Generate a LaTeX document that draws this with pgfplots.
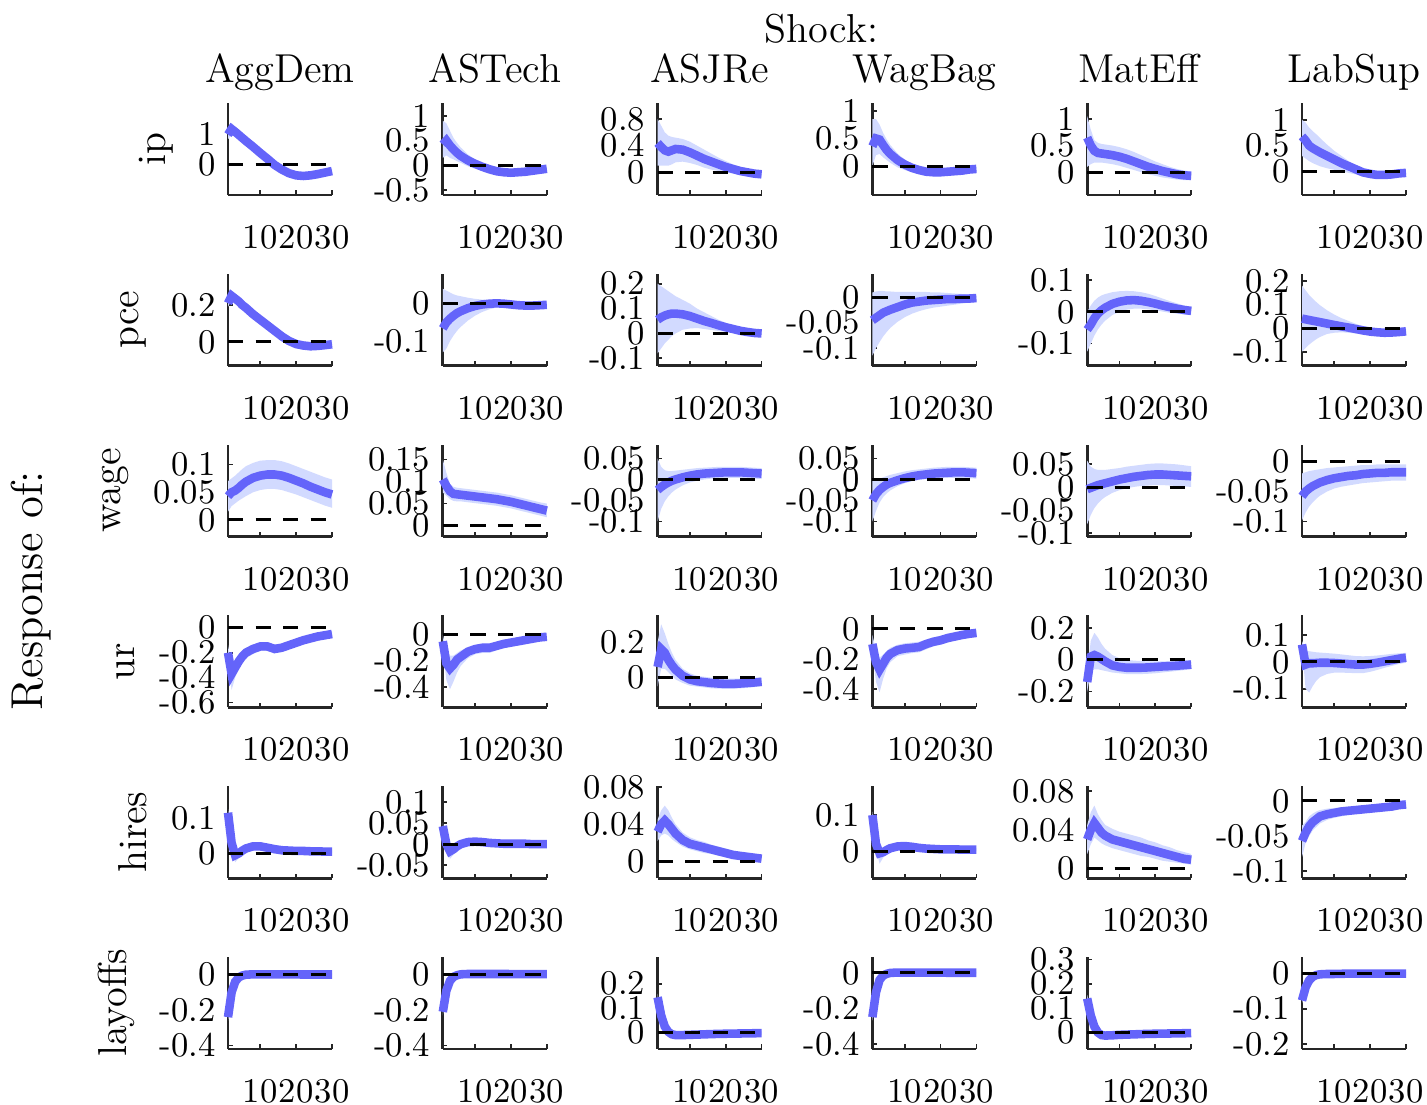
\documentclass[border=0pt]{standalone}
\usepackage{pgfplots}
\usepackage{pgfplotstable}
\pgfplotsset{compat=1.18}
\usepgfplotslibrary{fillbetween}
\definecolor{irfline}{RGB}{100,100,250}
\definecolor{irfband}{RGB}{210,218,255}

% ---------------- data: x  mid  lo  hi ----------------
\pgfplotstableread{
x m lo hi
1 0.97 0.82 1.12
2 1.15 0.95 1.35
3 1.06 0.9 1.22
4 0.96 0.83 1.09
5 0.86 0.75 0.98
6 0.76 0.66 0.87
8 0.57 0.48 0.66
10 0.37 0.29 0.45
12 0.18 0.1 0.26
14 -0.02 -0.09 0.05
16 -0.17 -0.24 -0.1
18 -0.29 -0.36 -0.22
20 -0.36 -0.43 -0.29
22 -0.38 -0.45 -0.31
24 -0.36 -0.43 -0.29
26 -0.32 -0.39 -0.25
28 -0.27 -0.34 -0.2
30 -0.22 -0.29 -0.15
}\tAA
\pgfplotstableread{
x m lo hi
1 0.42 0.15 0.9
2 0.5 0.2 0.85
3 0.4 0.15 0.7
4 0.32 0.12 0.55
5 0.25 0.08 0.45
6 0.19 0.05 0.36
8 0.1 -0.02 0.22
10 0.03 -0.07 0.12
12 -0.03 -0.11 0.04
14 -0.08 -0.15 -0.01
16 -0.12 -0.19 -0.05
18 -0.14 -0.21 -0.07
20 -0.15 -0.22 -0.08
22 -0.14 -0.21 -0.08
24 -0.13 -0.19 -0.07
26 -0.11 -0.17 -0.06
28 -0.09 -0.14 -0.04
30 -0.07 -0.11 -0.03
}\tAB
\pgfplotstableread{
x m lo hi
1 0.44 0.1 0.8
2 0.38 0.1 0.7
3 0.33 0.1 0.6
4 0.31 0.1 0.55
5 0.33 0.12 0.53
6 0.35 0.15 0.52
8 0.34 0.16 0.5
10 0.3 0.14 0.46
12 0.25 0.11 0.4
14 0.2 0.07 0.34
16 0.16 0.04 0.28
18 0.12 0.02 0.22
20 0.08 0.0 0.17
22 0.05 -0.02 0.12
24 0.02 -0.04 0.08
26 0.0 -0.05 0.05
28 -0.02 -0.06 0.02
30 -0.03 -0.07 0.01
}\tAC
\pgfplotstableread{
x m lo hi
1 0.36 0.0 0.85
2 0.5 0.2 0.85
3 0.48 0.22 0.75
4 0.38 0.16 0.6
5 0.29 0.11 0.48
6 0.22 0.06 0.38
8 0.11 -0.02 0.23
10 0.03 -0.07 0.12
12 -0.03 -0.11 0.05
14 -0.07 -0.14 0.0
16 -0.1 -0.17 -0.03
18 -0.11 -0.18 -0.04
20 -0.11 -0.18 -0.04
22 -0.1 -0.16 -0.04
24 -0.09 -0.14 -0.04
26 -0.08 -0.12 -0.03
28 -0.06 -0.1 -0.02
30 -0.05 -0.09 -0.01
}\tAD
\pgfplotstableread{
x m lo hi
1 0.65 0.1 1.05
2 0.5 0.15 0.8
3 0.4 0.18 0.6
4 0.36 0.18 0.55
5 0.35 0.18 0.53
6 0.34 0.17 0.52
8 0.32 0.15 0.5
10 0.29 0.12 0.47
12 0.25 0.08 0.43
14 0.2 0.04 0.38
16 0.15 0.0 0.32
18 0.1 -0.04 0.26
20 0.06 -0.07 0.2
22 0.02 -0.1 0.15
24 -0.01 -0.12 0.1
26 -0.04 -0.14 0.06
28 -0.06 -0.15 0.03
30 -0.07 -0.15 0.01
}\tAE
\pgfplotstableread{
x m lo hi
1 0.68 0.3 1.0
2 0.6 0.25 0.95
3 0.5 0.2 0.85
4 0.45 0.16 0.78
5 0.41 0.13 0.72
6 0.37 0.1 0.65
8 0.3 0.06 0.52
10 0.23 0.03 0.4
12 0.16 0.0 0.3
14 0.1 -0.03 0.2
16 0.04 -0.06 0.12
18 -0.02 -0.09 0.05
20 -0.05 -0.11 0.01
22 -0.07 -0.12 -0.01
24 -0.07 -0.12 -0.02
26 -0.06 -0.1 -0.02
28 -0.04 -0.08 -0.01
30 -0.03 -0.06 0.0
}\tAF
% ---- pce ----
\pgfplotstableread{
x m lo hi
1 0.21 0.19 0.235
2 0.25 0.23 0.275
3 0.235 0.215 0.26
4 0.22 0.2 0.245
5 0.2 0.18 0.225
6 0.185 0.165 0.21
8 0.15 0.13 0.175
10 0.12 0.1 0.145
12 0.09 0.07 0.115
14 0.06 0.04 0.085
16 0.03 0.01 0.055
18 0.005 -0.015 0.03
20 -0.012 -0.032 0.012
22 -0.02 -0.04 0.003
24 -0.024 -0.044 -0.002
26 -0.022 -0.042 0.0
28 -0.018 -0.038 0.004
30 -0.013 -0.033 0.009
}\tBA
\pgfplotstableread{
x m lo hi
1 -0.066 -0.13 0.04
2 -0.05 -0.12 0.035
3 -0.04 -0.1 0.03
4 -0.032 -0.085 0.025
5 -0.025 -0.072 0.022
6 -0.02 -0.062 0.02
8 -0.012 -0.045 0.016
10 -0.006 -0.032 0.013
12 -0.002 -0.022 0.011
14 0.0 -0.015 0.01
16 0.001 -0.01 0.01
18 0.0 -0.01 0.009
20 -0.002 -0.012 0.008
22 -0.004 -0.014 0.006
24 -0.005 -0.015 0.005
26 -0.005 -0.015 0.005
28 -0.004 -0.013 0.005
30 -0.003 -0.011 0.005
}\tBB
\pgfplotstableread{
x m lo hi
1 0.055 -0.08 0.2
2 0.065 -0.06 0.19
3 0.072 -0.04 0.18
4 0.077 -0.025 0.17
5 0.08 -0.01 0.16
6 0.08 0.0 0.15
8 0.077 0.015 0.135
10 0.07 0.02 0.12
12 0.06 0.022 0.1
14 0.05 0.018 0.085
16 0.042 0.014 0.07
18 0.033 0.01 0.055
20 0.025 0.007 0.043
22 0.018 0.004 0.032
24 0.011 0.0 0.022
26 0.006 -0.003 0.015
28 0.002 -0.005 0.01
30 0.0 -0.007 0.007
}\tBC
\pgfplotstableread{
x m lo hi
1 -0.045 -0.115 0.01
2 -0.04 -0.1 0.012
3 -0.035 -0.088 0.013
4 -0.03 -0.077 0.013
5 -0.027 -0.068 0.012
6 -0.024 -0.06 0.012
8 -0.019 -0.048 0.011
10 -0.014 -0.039 0.011
12 -0.01 -0.032 0.011
14 -0.008 -0.027 0.011
16 -0.006 -0.023 0.011
18 -0.005 -0.02 0.01
20 -0.004 -0.018 0.01
22 -0.003 -0.016 0.009
24 -0.003 -0.014 0.008
26 -0.002 -0.012 0.007
28 -0.002 -0.01 0.006
30 -0.001 -0.009 0.005
}\tBD
\pgfplotstableread{
x m lo hi
1 -0.056 -0.125 0.0
2 -0.04 -0.1 0.02
3 -0.02 -0.075 0.035
4 -0.005 -0.055 0.045
5 0.005 -0.04 0.052
6 0.013 -0.028 0.056
8 0.025 -0.01 0.062
10 0.032 0.0 0.065
12 0.036 0.007 0.066
14 0.037 0.01 0.065
16 0.035 0.01 0.062
18 0.031 0.008 0.057
20 0.026 0.005 0.05
22 0.02 0.001 0.042
24 0.015 -0.003 0.034
26 0.01 -0.006 0.027
28 0.006 -0.008 0.02
30 0.003 -0.01 0.015
}\tBE
\pgfplotstableread{
x m lo hi
1 0.04 -0.1 0.18
2 0.037 -0.085 0.16
3 0.034 -0.07 0.14
4 0.031 -0.058 0.125
5 0.028 -0.047 0.11
6 0.025 -0.038 0.097
8 0.019 -0.025 0.075
10 0.013 -0.02 0.057
12 0.007 -0.018 0.042
14 0.002 -0.02 0.03
16 -0.004 -0.023 0.018
18 -0.01 -0.027 0.008
20 -0.015 -0.03 0.0
22 -0.018 -0.032 -0.005
24 -0.02 -0.032 -0.008
26 -0.019 -0.03 -0.008
28 -0.017 -0.028 -0.007
30 -0.014 -0.025 -0.005
}\tBF
% ---- wage ----
\pgfplotstableread{
x m lo hi
1 0.043 0.015 0.07
2 0.05 0.025 0.075
3 0.053 0.03 0.08
4 0.058 0.035 0.086
5 0.064 0.039 0.092
6 0.069 0.043 0.097
8 0.076 0.05 0.103
10 0.08 0.054 0.107
12 0.082 0.056 0.108
14 0.082 0.056 0.108
16 0.08 0.054 0.106
18 0.076 0.05 0.102
20 0.071 0.046 0.097
22 0.066 0.041 0.092
24 0.06 0.036 0.087
26 0.055 0.031 0.082
28 0.05 0.026 0.077
30 0.046 0.022 0.073
}\tCA
\pgfplotstableread{
x m lo hi
1 0.105 0.075 0.15
2 0.09 0.068 0.12
3 0.078 0.06 0.095
4 0.072 0.056 0.088
5 0.071 0.055 0.086
6 0.07 0.055 0.085
8 0.068 0.053 0.083
10 0.066 0.051 0.081
12 0.064 0.049 0.079
14 0.062 0.047 0.077
16 0.06 0.045 0.075
18 0.057 0.042 0.072
20 0.054 0.039 0.069
22 0.05 0.035 0.065
24 0.046 0.031 0.061
26 0.042 0.027 0.057
28 0.038 0.023 0.053
30 0.034 0.019 0.05
}\tCB
\pgfplotstableread{
x m lo hi
1 -0.025 -0.1 0.05
2 -0.018 -0.07 0.03
3 -0.012 -0.052 0.022
4 -0.007 -0.04 0.02
5 -0.003 -0.031 0.02
6 0.0 -0.024 0.021
8 0.005 -0.014 0.023
10 0.009 -0.007 0.025
12 0.012 -0.003 0.027
14 0.014 0.0 0.028
16 0.015 0.002 0.029
18 0.016 0.003 0.03
20 0.017 0.004 0.03
22 0.017 0.004 0.03
24 0.017 0.004 0.03
26 0.016 0.003 0.029
28 0.015 0.002 0.028
30 0.014 0.001 0.027
}\tCC
\pgfplotstableread{
x m lo hi
1 -0.05 -0.1 0.0
2 -0.035 -0.075 0.0
3 -0.025 -0.055 0.002
4 -0.018 -0.042 0.005
5 -0.012 -0.033 0.008
6 -0.008 -0.026 0.011
8 -0.002 -0.016 0.015
10 0.003 -0.009 0.019
12 0.007 -0.004 0.022
14 0.01 -0.001 0.024
16 0.012 0.001 0.026
18 0.014 0.002 0.028
20 0.015 0.003 0.029
22 0.016 0.004 0.03
24 0.017 0.004 0.03
26 0.017 0.004 0.03
28 0.016 0.003 0.029
30 0.015 0.002 0.028
}\tCD
\pgfplotstableread{
x m lo hi
1 -0.004 -0.08 0.058
2 -0.001 -0.06 0.045
3 0.002 -0.045 0.04
4 0.005 -0.035 0.038
5 0.007 -0.027 0.038
6 0.009 -0.021 0.038
8 0.013 -0.012 0.04
10 0.017 -0.006 0.042
12 0.02 -0.002 0.045
14 0.023 0.001 0.047
16 0.025 0.003 0.049
18 0.027 0.004 0.051
20 0.028 0.005 0.052
22 0.028 0.005 0.052
24 0.027 0.004 0.051
26 0.026 0.003 0.05
28 0.025 0.002 0.048
30 0.024 0.001 0.046
}\tCE
\pgfplotstableread{
x m lo hi
1 -0.058 -0.098 -0.02
2 -0.05 -0.085 -0.018
3 -0.045 -0.075 -0.016
4 -0.041 -0.068 -0.015
5 -0.038 -0.062 -0.014
6 -0.035 -0.057 -0.013
8 -0.031 -0.05 -0.011
10 -0.028 -0.045 -0.01
12 -0.026 -0.042 -0.009
14 -0.024 -0.04 -0.008
16 -0.023 -0.038 -0.007
18 -0.021 -0.036 -0.006
20 -0.02 -0.035 -0.006
22 -0.019 -0.034 -0.005
24 -0.019 -0.033 -0.005
26 -0.018 -0.032 -0.005
28 -0.018 -0.032 -0.005
30 -0.018 -0.032 -0.005
}\tCF
% ---- ur ----
\pgfplotstableread{
x m lo hi
1 -0.2 -0.26 -0.14
2 -0.37 -0.5 -0.29
3 -0.32 -0.4 -0.26
4 -0.27 -0.33 -0.22
5 -0.23 -0.28 -0.19
6 -0.2 -0.245 -0.16
8 -0.17 -0.21 -0.135
10 -0.15 -0.185 -0.12
12 -0.15 -0.185 -0.12
14 -0.17 -0.205 -0.135
16 -0.16 -0.195 -0.13
18 -0.14 -0.17 -0.11
20 -0.12 -0.15 -0.09
22 -0.1 -0.13 -0.075
24 -0.085 -0.11 -0.06
26 -0.07 -0.095 -0.05
28 -0.06 -0.08 -0.04
30 -0.05 -0.07 -0.03
}\tDA
\pgfplotstableread{
x m lo hi
1 -0.05 -0.12 0.0
2 -0.22 -0.35 -0.12
3 -0.26 -0.42 -0.16
4 -0.23 -0.36 -0.16
5 -0.19 -0.29 -0.14
6 -0.17 -0.24 -0.12
8 -0.13 -0.18 -0.1
10 -0.11 -0.15 -0.08
12 -0.1 -0.14 -0.07
14 -0.1 -0.14 -0.07
16 -0.085 -0.12 -0.06
18 -0.07 -0.1 -0.05
20 -0.06 -0.085 -0.04
22 -0.05 -0.07 -0.03
24 -0.04 -0.06 -0.02
26 -0.03 -0.05 -0.015
28 -0.02 -0.04 -0.01
30 -0.015 -0.03 -0.005
}\tDB
\pgfplotstableread{
x m lo hi
1 0.06 -0.05 0.2
2 0.16 0.05 0.3
3 0.14 0.05 0.25
4 0.1 0.03 0.19
5 0.07 0.01 0.14
6 0.045 -0.01 0.1
8 0.01 -0.03 0.05
10 -0.01 -0.045 0.025
12 -0.02 -0.05 0.01
14 -0.025 -0.055 0.005
16 -0.03 -0.06 0.0
18 -0.033 -0.062 -0.003
20 -0.035 -0.063 -0.005
22 -0.035 -0.063 -0.006
24 -0.033 -0.06 -0.005
26 -0.03 -0.057 -0.003
28 -0.027 -0.053 -0.002
30 -0.023 -0.048 0.0
}\tDC
\pgfplotstableread{
x m lo hi
1 -0.1 -0.16 -0.04
2 -0.22 -0.35 -0.14
3 -0.27 -0.42 -0.19
4 -0.23 -0.33 -0.17
5 -0.19 -0.26 -0.145
6 -0.165 -0.22 -0.125
8 -0.14 -0.18 -0.105
10 -0.13 -0.17 -0.095
12 -0.125 -0.16 -0.09
14 -0.12 -0.155 -0.085
16 -0.1 -0.135 -0.07
18 -0.085 -0.115 -0.055
20 -0.075 -0.105 -0.045
22 -0.06 -0.09 -0.035
24 -0.05 -0.078 -0.025
26 -0.04 -0.065 -0.018
28 -0.032 -0.055 -0.012
30 -0.026 -0.047 -0.008
}\tDD
\pgfplotstableread{
x m lo hi
1 -0.14 -0.2 -0.07
2 0.02 -0.07 0.12
3 0.03 -0.06 0.17
4 0.02 -0.06 0.14
5 0.005 -0.065 0.1
6 -0.01 -0.07 0.07
8 -0.035 -0.08 0.03
10 -0.045 -0.085 0.01
12 -0.05 -0.09 0.0
14 -0.05 -0.09 -0.005
16 -0.05 -0.09 -0.008
18 -0.048 -0.088 -0.01
20 -0.045 -0.085 -0.01
22 -0.042 -0.08 -0.01
24 -0.04 -0.075 -0.008
26 -0.037 -0.07 -0.006
28 -0.034 -0.065 -0.004
30 -0.03 -0.06 -0.002
}\tDE
\pgfplotstableread{
x m lo hi
1 0.065 0.05 0.08
2 -0.01 -0.1 0.04
3 -0.005 -0.115 0.04
4 -0.005 -0.09 0.038
5 -0.004 -0.07 0.036
6 -0.003 -0.057 0.035
8 -0.003 -0.045 0.033
10 -0.004 -0.04 0.031
12 -0.006 -0.04 0.028
14 -0.008 -0.041 0.025
16 -0.01 -0.042 0.022
18 -0.01 -0.042 0.021
20 -0.007 -0.037 0.022
22 -0.003 -0.03 0.024
24 0.002 -0.022 0.027
26 0.007 -0.015 0.03
28 0.012 -0.008 0.032
30 0.016 -0.003 0.034
}\tDF
% ---- hires ----
\pgfplotstableread{
x m lo hi
1 0.115 0.105 0.125
2 0.03 0.015 0.045
3 -0.005 -0.025 0.01
4 0.0 -0.013 0.012
5 0.008 -0.002 0.018
6 0.014 0.005 0.023
8 0.02 0.012 0.028
10 0.02 0.013 0.027
12 0.016 0.009 0.023
14 0.012 0.006 0.018
16 0.009 0.004 0.015
18 0.008 0.003 0.013
20 0.007 0.002 0.012
22 0.007 0.002 0.011
24 0.006 0.002 0.01
26 0.006 0.002 0.01
28 0.005 0.001 0.009
30 0.005 0.001 0.009
}\tEA
\pgfplotstableread{
x m lo hi
1 0.043 0.035 0.05
2 0.0 -0.012 0.01
3 -0.017 -0.035 -0.005
4 -0.012 -0.025 -0.002
5 -0.005 -0.014 0.003
6 0.0 -0.007 0.007
8 0.005 -0.001 0.011
10 0.006 0.0 0.012
12 0.005 0.0 0.01
14 0.003 -0.002 0.008
16 0.002 -0.002 0.006
18 0.001 -0.003 0.005
20 0.001 -0.003 0.005
22 0.001 -0.003 0.004
24 0.001 -0.003 0.004
26 0.0 -0.004 0.004
28 0.0 -0.004 0.004
30 0.0 -0.004 0.004
}\tEB
\pgfplotstableread{
x m lo hi
1 0.032 0.022 0.045
2 0.04 0.028 0.055
3 0.044 0.03 0.06
4 0.04 0.028 0.055
5 0.035 0.024 0.047
6 0.03 0.021 0.04
8 0.023 0.016 0.031
10 0.019 0.013 0.026
12 0.017 0.011 0.023
14 0.015 0.009 0.021
16 0.013 0.008 0.018
18 0.011 0.006 0.016
20 0.009 0.005 0.014
22 0.007 0.003 0.012
24 0.006 0.002 0.01
26 0.005 0.001 0.009
28 0.004 0.0 0.008
30 0.003 0.0 0.007
}\tEC
\pgfplotstableread{
x m lo hi
1 0.1 0.09 0.11
2 0.02 0.005 0.035
3 -0.006 -0.035 0.008
4 -0.003 -0.018 0.01
5 0.003 -0.007 0.013
6 0.008 0.0 0.017
8 0.013 0.006 0.021
10 0.014 0.007 0.022
12 0.012 0.005 0.019
14 0.009 0.003 0.016
16 0.007 0.002 0.013
18 0.006 0.001 0.012
20 0.005 0.0 0.011
22 0.005 0.0 0.01
24 0.005 0.0 0.01
26 0.004 0.0 0.009
28 0.004 0.0 0.008
30 0.004 0.0 0.008
}\tED
\pgfplotstableread{
x m lo hi
1 0.03 0.015 0.045
2 0.04 0.025 0.058
3 0.047 0.032 0.065
4 0.042 0.029 0.056
5 0.037 0.026 0.05
6 0.034 0.024 0.045
8 0.03 0.021 0.041
10 0.028 0.019 0.038
12 0.026 0.017 0.036
14 0.024 0.015 0.034
16 0.022 0.013 0.032
18 0.02 0.012 0.029
20 0.018 0.01 0.027
22 0.016 0.008 0.024
24 0.014 0.007 0.022
26 0.012 0.006 0.019
28 0.01 0.005 0.017
30 0.009 0.004 0.015
}\tEE
\pgfplotstableread{
x m lo hi
1 -0.057 -0.08 -0.035
2 -0.045 -0.06 -0.03
3 -0.036 -0.05 -0.022
4 -0.03 -0.042 -0.018
5 -0.026 -0.037 -0.015
6 -0.022 -0.032 -0.013
8 -0.019 -0.027 -0.011
10 -0.017 -0.024 -0.01
12 -0.015 -0.022 -0.009
14 -0.014 -0.02 -0.008
16 -0.013 -0.018 -0.008
18 -0.012 -0.017 -0.007
20 -0.011 -0.016 -0.006
22 -0.01 -0.015 -0.005
24 -0.009 -0.014 -0.004
26 -0.008 -0.012 -0.003
28 -0.006 -0.011 -0.002
30 -0.005 -0.009 -0.001
}\tEF
% ---- layoffs ----
\pgfplotstableread{
x m lo hi
1 -0.24 -0.26 -0.22
2 -0.1 -0.115 -0.085
3 -0.04 -0.05 -0.03
4 -0.015 -0.024 -0.006
5 -0.005 -0.013 0.003
6 0.0 -0.008 0.008
8 0.002 -0.005 0.009
10 0.002 -0.005 0.009
14 0.002 -0.005 0.009
18 0.002 -0.004 0.008
22 0.001 -0.004 0.007
26 0.001 -0.004 0.007
30 0.001 -0.004 0.007
}\tFA
\pgfplotstableread{
x m lo hi
1 -0.21 -0.23 -0.19
2 -0.09 -0.105 -0.075
3 -0.035 -0.045 -0.025
4 -0.012 -0.021 -0.003
5 -0.003 -0.011 0.005
6 0.002 -0.006 0.01
8 0.004 -0.003 0.011
10 0.004 -0.003 0.011
14 0.004 -0.003 0.011
18 0.004 -0.002 0.01
22 0.003 -0.003 0.009
26 0.003 -0.003 0.009
30 0.003 -0.003 0.009
}\tFB
\pgfplotstableread{
x m lo hi
1 0.145 0.13 0.16
2 0.07 0.058 0.082
3 0.025 0.016 0.034
4 0.003 -0.005 0.011
5 -0.007 -0.014 0.0
6 -0.01 -0.017 -0.003
8 -0.01 -0.017 -0.003
10 -0.009 -0.016 -0.002
14 -0.007 -0.014 0.0
18 -0.005 -0.012 0.002
22 -0.004 -0.011 0.003
26 -0.003 -0.01 0.004
30 -0.002 -0.009 0.005
}\tFC
\pgfplotstableread{
x m lo hi
1 -0.25 -0.27 -0.23
2 -0.11 -0.125 -0.095
3 -0.04 -0.05 -0.03
4 -0.015 -0.024 -0.006
5 -0.005 -0.013 0.003
6 0.0 -0.008 0.008
8 0.002 -0.005 0.009
10 0.002 -0.005 0.009
14 0.002 -0.005 0.009
18 0.002 -0.004 0.008
22 0.001 -0.004 0.007
26 0.001 -0.004 0.007
30 0.001 -0.004 0.007
}\tFD
\pgfplotstableread{
x m lo hi
1 0.14 0.125 0.155
2 0.07 0.058 0.082
3 0.025 0.016 0.034
4 0.0 -0.008 0.008
5 -0.01 -0.017 -0.003
6 -0.012 -0.019 -0.005
8 -0.011 -0.018 -0.004
10 -0.009 -0.016 -0.002
14 -0.007 -0.014 0.0
18 -0.005 -0.012 0.002
22 -0.004 -0.011 0.003
26 -0.003 -0.01 0.004
30 -0.002 -0.009 0.005
}\tFE
\pgfplotstableread{
x m lo hi
1 -0.077 -0.085 -0.069
2 -0.04 -0.047 -0.033
3 -0.02 -0.026 -0.014
4 -0.01 -0.015 -0.005
5 -0.005 -0.01 0.0
6 -0.003 -0.008 0.002
8 -0.002 -0.006 0.002
10 -0.002 -0.006 0.002
14 -0.001 -0.005 0.003
18 -0.001 -0.005 0.003
22 -0.001 -0.005 0.003
26 -0.001 -0.005 0.003
30 -0.001 -0.005 0.003
}\tFF

\pgfplotsset{
  irf/.style={
    scale only axis, width=29.12pt, height=25.76pt,
    anchor=north west, clip=false,
    xmin=1, xmax=30,
    scaled y ticks=false, scaled x ticks=false,
    axis x line*=bottom, axis y line*=left,
    axis line style={line width=0.75pt, black!85},
    xtick={10,20,30}, xticklabels={10,20,30},
    tick align=inside, major tick length=1.3pt,
    tick style={line width=0.5pt, black!85},
    tick label style={font=\fontsize{9.7}{10}\selectfont},
    xticklabel style={yshift=-5pt},
    ylabel style={font=\fontsize{11.3}{13}\selectfont},
    every axis title/.style={at={(0.5,1)}, anchor=base, yshift=5.6pt,
      font=\fontsize{11.3}{13}\selectfont},
  }
}

\newcommand{\panel}[7]{%
  \begin{axis}[irf,
    at={({(228+214.8*#1)*0.28pt},{-(103+170.8*#2)*0.28pt})},
    ymin=#3, ymax=#4, ytick={#5}, yticklabels={#5}, #7]
    \addplot[draw=none, name path=hi] table[x=x, y=hi] {#6};
    \addplot[draw=none, name path=lo] table[x=x, y=lo] {#6};
    \addplot[irfband, draw=none] fill between[of=hi and lo];
    \addplot[irfline, line width=2.4pt] table[x=x, y=m] {#6};
    \addplot[black, dash pattern=on 4.3pt off 3.4pt, line width=0.85pt] coordinates {(1,0) (30,0)};
  \end{axis}}

\begin{document}
\begin{tikzpicture}
% row 0: ip
\panel{0}{0}{-1}{2}{0,1}{\tAA}{title={AggDem}, ylabel={ip}}
\panel{1}{0}{-0.6}{1.26}{-0.5,0,0.5,1}{\tAB}{title={ASTech}}
\panel{2}{0}{-0.34}{1.04}{0,0.4,0.8}{\tAC}{title={ASJRe}}
\panel{3}{0}{-0.52}{1.14}{0,0.5,1}{\tAD}{title={WagBag}}
\panel{4}{0}{-0.43}{1.3}{0,0.5,1}{\tAE}{title={MatEff}}
\panel{5}{0}{-0.46}{1.33}{0,0.5,1}{\tAF}{title={LabSup}}
% row 1: pce
\panel{0}{1}{-0.13}{0.37}{0,0.2}{\tBA}{ylabel={pce}}
\panel{1}{1}{-0.166}{0.08}{-0.1,0}{\tBB}{}
\panel{2}{1}{-0.13}{0.24}{-0.1,0,0.1,0.2}{\tBC}{}
\panel{3}{1}{-0.135}{0.047}{-0.1,-0.05,0}{\tBD}{}
\panel{4}{1}{-0.17}{0.12}{-0.1,0,0.1}{\tBE}{}
\panel{5}{1}{-0.16}{0.23}{-0.1,0,0.1,0.2}{\tBF}{}
% row 2: wage
\panel{0}{2}{-0.03}{0.136}{0,0.05,0.1}{\tCA}{ylabel={wage}}
\panel{1}{2}{-0.025}{0.184}{0,0.05,0.1,0.15}{\tCB}{}
\panel{2}{2}{-0.136}{0.083}{-0.1,-0.05,0,0.05}{\tCC}{}
\panel{3}{2}{-0.136}{0.083}{-0.1,-0.05,0,0.05}{\tCD}{}
\panel{4}{2}{-0.107}{0.093}{-0.1,-0.05,0,0.05}{\tCE}{}
\panel{5}{2}{-0.125}{0.028}{-0.1,-0.05,0}{\tCF}{}
% row 3: ur
\panel{0}{3}{-0.64}{0.1}{-0.6,-0.4,-0.2,0}{\tDA}{ylabel={ur}}
\panel{1}{3}{-0.56}{0.15}{-0.4,-0.2,0}{\tDB}{}
\panel{2}{3}{-0.167}{0.35}{0,0.2}{\tDC}{}
\panel{3}{3}{-0.52}{0.09}{-0.4,-0.2,0}{\tDD}{}
\panel{4}{3}{-0.3}{0.28}{-0.2,0,0.2}{\tDE}{}
\panel{5}{3}{-0.17}{0.174}{-0.1,0,0.1}{\tDF}{}
% row 4: hires
\panel{0}{4}{-0.07}{0.19}{0,0.1}{\tEA}{ylabel={hires}}
\panel{1}{4}{-0.081}{0.138}{-0.05,0,0.05,0.1}{\tEB}{}
\panel{2}{4}{-0.018}{0.081}{0,0.04,0.08}{\tEC}{}
\panel{3}{4}{-0.075}{0.18}{0,0.1}{\tED}{}
\panel{4}{4}{-0.01}{0.085}{0,0.04,0.08}{\tEE}{}
\panel{5}{4}{-0.11}{0.021}{-0.1,-0.05,0}{\tEF}{}
% row 5: layoffs
\panel{0}{5}{-0.42}{0.1}{-0.4,-0.2,0}{\tFA}{ylabel={layoffs}}
\panel{1}{5}{-0.42}{0.1}{-0.4,-0.2,0}{\tFB}{}
\panel{2}{5}{-0.067}{0.31}{0,0.1,0.2}{\tFC}{}
\panel{3}{5}{-0.43}{0.09}{-0.4,-0.2,0}{\tFD}{}
\panel{4}{5}{-0.067}{0.31}{0,0.1,0.2,0.3}{\tFE}{}
\panel{5}{5}{-0.214}{0.046}{-0.2,-0.1,0}{\tFF}{}
% global labels
\node[anchor=base, font=\fontsize{11.3}{13}\selectfont] at (230.02pt,-12.04pt) {Shock:};
\node[anchor=base, rotate=90, font=\fontsize{12.5}{14}\selectfont] at (12.04pt,-165.48pt) {Response of:};
\pgfresetboundingbox
\useasboundingbox (0,0) rectangle (399.56pt,-309.4pt);
\end{tikzpicture}
\end{document}
